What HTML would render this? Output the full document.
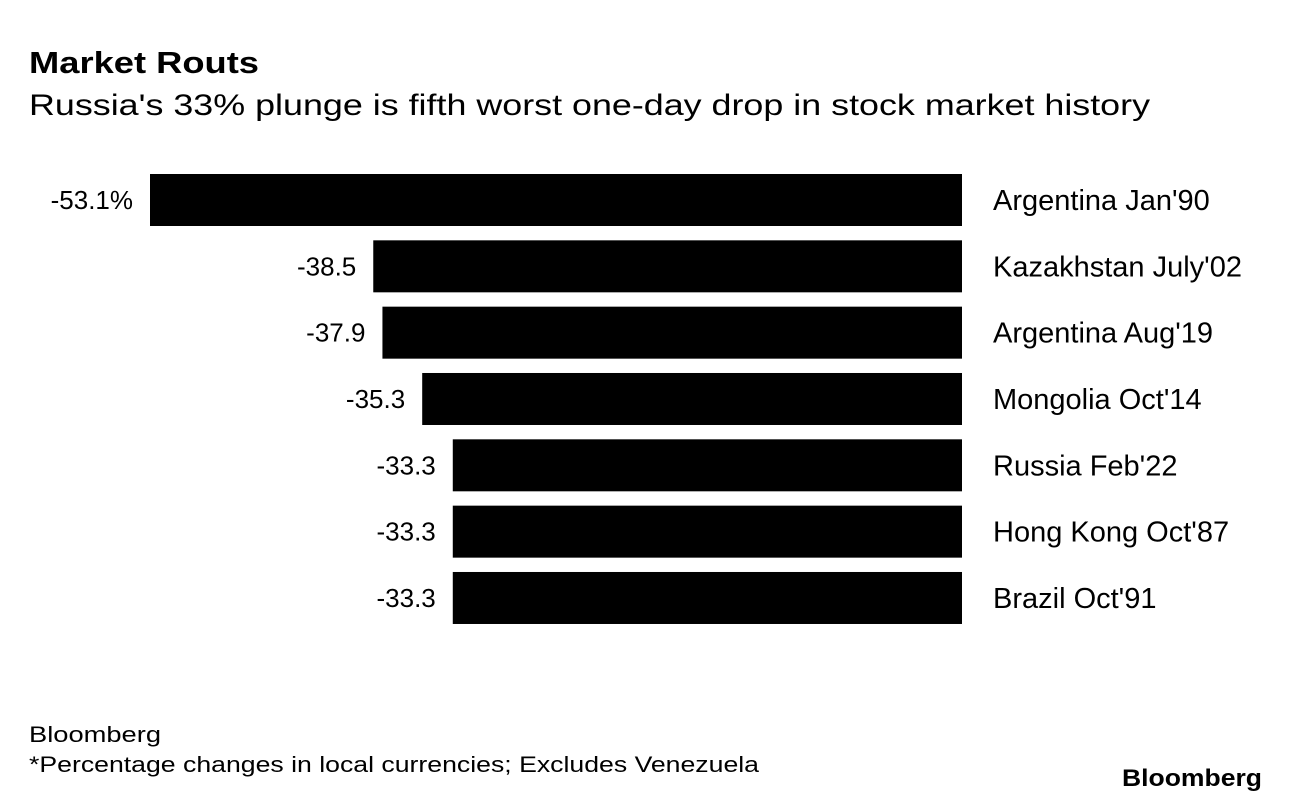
<!DOCTYPE html>
<html><head><meta charset="utf-8"><style>
body{margin:0;background:#fff;width:1289px;height:802px;overflow:hidden;font-family:"Liberation Sans",sans-serif;color:#000}
</style></head><body>
<svg width="1289" height="802">
<text x="29" y="73" font-size="31" font-weight="bold" textLength="230" lengthAdjust="spacingAndGlyphs">Market Routs</text>
<text x="29" y="115" font-size="30" textLength="1121" lengthAdjust="spacingAndGlyphs">Russia's 33% plunge is fifth worst one-day drop in stock market history</text>
<g id="bars"></g>
<text x="29" y="742" font-size="22" textLength="132" lengthAdjust="spacingAndGlyphs">Bloomberg</text>
<text x="29" y="772" font-size="22" textLength="730" lengthAdjust="spacingAndGlyphs">*Percentage changes in local currencies; Excludes Venezuela</text>
<text x="1122" y="786" font-size="24" font-weight="bold" textLength="140" lengthAdjust="spacingAndGlyphs">Bloomberg</text>
</svg>
<script>
const categories=["Argentina Jan'90","Kazakhstan July'02","Argentina Aug'19","Mongolia Oct'14","Russia Feb'22","Hong Kong Oct'87","Brazil Oct'91"];
const values=[-53.1,-38.5,-37.9,-35.3,-33.3,-33.3,-33.3];
const valueLabels=["-53.1%","-38.5","-37.9","-35.3","-33.3","-33.3","-33.3"];
const zeroX=962, scale=812/53.1, top0=174, pitch=66.33, bh=52;
const x=v=>zeroX+v*scale;
const y=i=>top0+i*pitch;
const g=document.getElementById('bars');
const NS='http://www.w3.org/2000/svg';
values.forEach((v,i)=>{
 const r=document.createElementNS(NS,'rect');
 r.setAttribute('x',x(v));r.setAttribute('y',y(i));
 r.setAttribute('width',zeroX-x(v));r.setAttribute('height',bh);r.setAttribute('fill','#000');
 
 
 g.appendChild(r);
 const t=document.createElementNS(NS,'text');
 t.setAttribute('x',x(v)-17);t.setAttribute('y',y(i)+bh/2+9);
 t.setAttribute('text-anchor','end');t.setAttribute('font-size','26');
 t.textContent=valueLabels[i];
 
 
 g.appendChild(t);
 const c=document.createElementNS(NS,'text');
 c.setAttribute('x',993);c.setAttribute('y',y(i)+bh/2+10);
 c.setAttribute('font-size','29');
 c.textContent=categories[i];
 
 
 g.appendChild(c);
});
</script>
</body></html>
